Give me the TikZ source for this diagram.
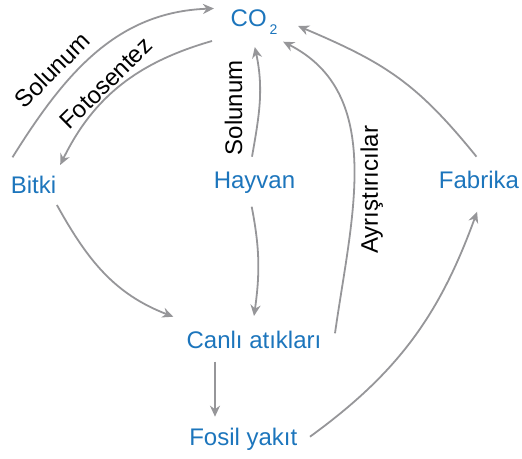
\documentclass[tikz,border=0pt]{standalone}
\usepackage{fontspec}
\setmainfont{Liberation Sans}
\usepackage{tikz}
\usetikzlibrary{arrows.meta}
\definecolor{termblue}{RGB}{28,117,188}
\definecolor{flowgray}{RGB}{150,150,153}

\begin{document}
\begin{tikzpicture}[x=1pt, y=1pt,
    term/.style={text=termblue, font=\fontsize{24}{28}\selectfont, inner sep=0pt, anchor=base},
    lbl/.style={font=\fontsize{24}{28}\selectfont, inner sep=2pt},
    flow/.style={draw=flowgray, line width=1.8pt, ->},
    >={Stealth[length=11pt, width=10pt, inset=3.5pt]}]
        \useasboundingbox (0,0) rectangle (522,458);

        \node[term] (co2) at (254,431.5) {CO\kern2.8pt\raisebox{-8pt}{\fontsize{14}{14}\selectfont 2}};
        \node[term] (bitki) at (33.5,264.7) {Bitki};
        \node[term] (hayvan) at (254.5,269.7) {Hayvan};
        \node[term] (fabrika) at (479,269.7) {Fabrika};
        \node[term] (canli) at (254,109.7) {Canlı atıkları};
        \node[term] (fosil) at (243.3,13) {Fosil yakıt};

        \draw[flow] ([shift={(-21,36)}]bitki.base) to[out=58, in=182]
            node[lbl, pos=.33, rotate=45, anchor=south, inner sep=9pt]{Solunum} ([shift={(-40,18)}]co2.base);
        \draw[flow] ([shift={(-42,-14.5)}]co2.base) to[out=196, in=64]
            node[lbl, pos=.55, rotate=44.5, anchor=south]{Fotosentez} ([shift={(26.7,28.3)}]bitki.base);
        \draw[flow] ([shift={(-2.5,31.6)}]hayvan.base) to[out=80, in=282]
            node[lbl, pos=.44, rotate=90, anchor=south, inner sep=16pt]{Solunum} ([shift={(0.8,-20.5)}]co2.base);
        \draw[flow] ([shift={(-2.8,-18.4)}]hayvan.base) to[out=-79, in=82] ([shift={(0,32.3)}]canli.base);
        \draw[flow] ([shift={(23.4,-11.7)}]bitki.base) to[out=-61, in=159] ([shift={(-80.7,31.6)}]canli.base);
        \draw[flow] ([shift={(81,15)}]canli.base) to[out=82, in=-27]
            node[lbl, pos=.42, rotate=90, anchor=north, inner sep=6pt]{Ayrıştırıcılar} ([shift={(29.1,-15.2)}]co2.base);
        \draw[flow] ([shift={(-2.5,31.6)}]fabrika.base) to[out=129, in=-23, looseness=1.1] ([shift={(44.1,0.5)}]co2.base);
        \draw[flow] ([shift={(-39,-13.4)}]canli.base) -- ([shift={(-28.3,28.3)}]fosil.base);
        \draw[flow] ([shift={(66.7,8.3)}]fosil.base) to[out=36, in=250] ([shift={(-1.9,-23.4)}]fabrika.base);
\end{tikzpicture}
\end{document}
